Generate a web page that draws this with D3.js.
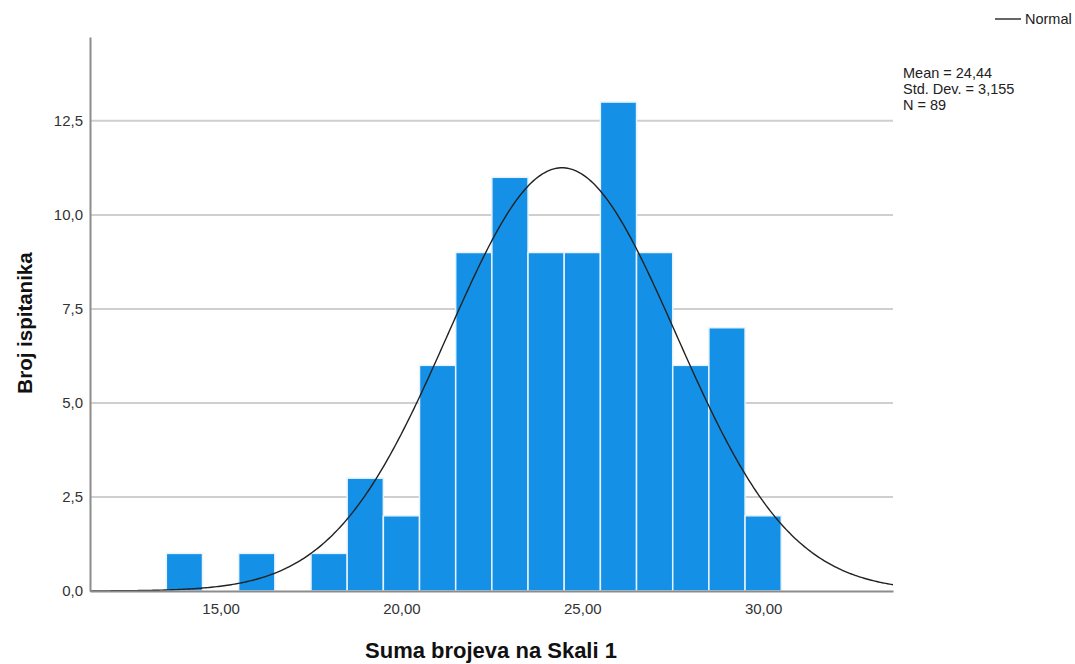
<!DOCTYPE html>
<html>
<head>
<meta charset="utf-8">
<script src="https://cdn.jsdelivr.net/npm/d3@7"></script>
<style>
  body { margin: 0; background: #fff; }
  svg text { font-family: "Liberation Sans", Arial, sans-serif; }
</style>
</head>
<body>
<div id="chart"></div>
<script>
// histogram bins (bin centre = value, width 1)
const binCenters = [14, 16, 18, 19, 20, 21, 22, 23, 24, 25, 26, 27, 28, 29, 30];
const binCounts  = [1, 1, 1, 3, 2, 6, 9, 11, 9, 9, 13, 9, 6, 7, 2];
const yTicks = [0, 2.5, 5, 7.5, 10, 12.5];
const xTicks = [15, 20, 25, 30];
const statLabels = ["Mean = 24,44", "Std. Dev. = 3,155", "N = 89"];
const mean = 24.44, sd = 3.155, n = 89;

const width = 1075, height = 664;
const svg = d3.select("#chart").append("svg")
    .attr("width", width)
    .attr("height", height);

const x = d3.scaleLinear().domain([11.39, 33.59]).range([90, 893]);
const y = d3.scaleLinear().domain([0, 14.73]).range([591, 37]);

const comma = d => d.toFixed(1).replace(".", ",");

// gridlines
svg.append("g").selectAll("line")
    .data(yTicks.filter(d => d > 0))
    .join("line")
    .attr("x1", x.range()[0]).attr("x2", x.range()[1])
    .attr("y1", d => y(d)).attr("y2", d => y(d))
    .attr("stroke", "#cfcfcf").attr("stroke-width", 2);

// bars
svg.append("g").selectAll("rect")
    .data(binCenters)
    .join("rect")
    .attr("x", d => x(d - 0.5))
    .attr("width", d => x(d + 0.5) - x(d - 0.5))
    .attr("y", (d, i) => y(binCounts[i]))
    .attr("height", (d, i) => y(0) - y(binCounts[i]))
    .attr("fill", "#1490e6")
    .attr("stroke", "#e6f2fc")
    .attr("stroke-width", 1.5);

// normal curve from the stated mean / sd / n
const curveX = d3.range(x.domain()[0], x.domain()[1] + 0.01, 0.05);
const pdf = v => n * Math.exp(-0.5 * ((v - mean) / sd) ** 2) / (sd * Math.sqrt(2 * Math.PI));
svg.append("path")
    .datum(curveX)
    .attr("fill", "none")
    .attr("stroke", "#222")
    .attr("stroke-width", 1.4)
    .attr("d", d3.line().x(d => x(d)).y(d => y(pdf(d))));

// axes
const yAxis = svg.append("g")
    .attr("transform", `translate(${x.range()[0]},0)`)
    .call(d3.axisLeft(y).tickValues(yTicks).tickFormat(comma).tickSize(0).tickPadding(7));
yAxis.select(".domain").attr("stroke", "#8c8c8c").attr("stroke-width", 2);
yAxis.selectAll("text").attr("font-size", 15).attr("fill", "#333")
    .style("font-family", "Liberation Sans, Arial, sans-serif");

const xAxis = svg.append("g")
    .attr("transform", `translate(0,${y(0)})`)
    .call(d3.axisBottom(x).tickValues(xTicks).tickFormat(d => d.toFixed(2).replace(".", ",")).tickSize(0).tickPadding(12));
xAxis.select(".domain").attr("stroke", "#8c8c8c").attr("stroke-width", 2);
xAxis.selectAll("text").attr("font-size", 15).attr("fill", "#333")
    .style("font-family", "Liberation Sans, Arial, sans-serif");

// axis titles
svg.append("text")
    .attr("x", 491).attr("y", 658)
    .attr("text-anchor", "middle")
    .attr("font-size", 22).attr("font-weight", "bold").attr("fill", "#111")
    .text("Suma brojeva na Skali 1");

svg.append("text")
    .attr("transform", "translate(32,323) rotate(-90)")
    .attr("text-anchor", "middle")
    .attr("font-size", 20.5).attr("font-weight", "bold").attr("fill", "#111")
    .text("Broj ispitanika");

// legend
svg.append("line")
    .attr("x1", 995).attr("x2", 1021).attr("y1", 19).attr("y2", 19)
    .attr("stroke", "#333").attr("stroke-width", 1.5);
svg.append("text")
    .attr("x", 1025).attr("y", 24)
    .attr("font-size", 14.5).attr("fill", "#222")
    .text("Normal");

svg.append("g").selectAll("text")
    .data(statLabels)
    .join("text")
    .attr("x", 903).attr("y", (d, i) => 78 + i * 16)
    .attr("font-size", 14.5).attr("fill", "#222")
    .text(d => d);
</script>
</body>
</html>
